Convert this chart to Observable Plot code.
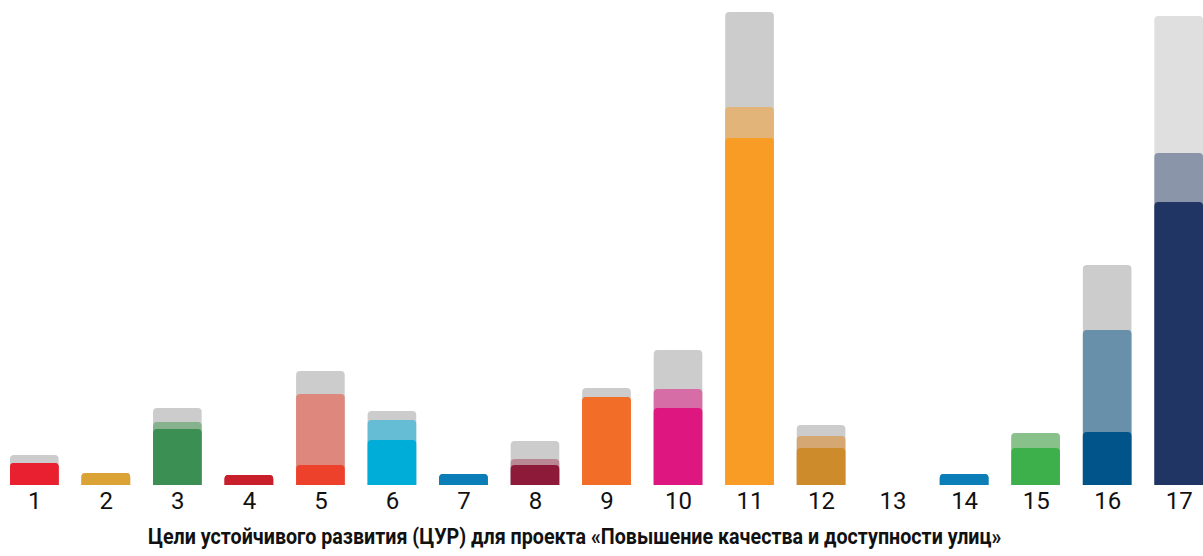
<!DOCTYPE html>
<html>
<head>
<meta charset="utf-8">
<script src="https://cdn.jsdelivr.net/npm/d3@7"></script>
<script src="https://cdn.jsdelivr.net/npm/@observablehq/plot@0.6"></script>
<style>
  html, body { margin: 0; padding: 0; background: #fff; }
  #chart { width: 1203px; height: 515px; }
  #titlewrap { height: 41px; position: relative; }
  #title {
    position: absolute; left: 148px; top: 10px;
    font-family: "Roboto", sans-serif;
    font-weight: bold; font-size: 22px; line-height: 24px; color: #111;
    white-space: nowrap; transform-origin: 0 50%; transform: scaleX(0.895);
  }
</style>
</head>
<body>
<div id="chart"></div>
<div id="titlewrap"><div id="title">Цели устойчивого развития (ЦУР) для проекта «Повышение качества и доступности улиц»</div></div>
<script>
const goals = [1,2,3,4,5,6,7,8,9,10,11,12,13,14,15,16,17];
const baseValues = [22,12,56,10,20,45,11,20,88,77,347,37,0,11,37,53,283];
const midValues  = [22,12,63,10,91,65,11,26,88,96,378,49,0,11,52,155,332];
const topValues  = [30,12,77,10,114,74,11,44,97,135,473,60,0,11,52,220,469];
const baseColors = ["#E8202F","#DBA335","#3C8F53","#C91F2B","#EE412C","#00ADD8","#0B7EB7","#8E1A3A","#F26D27","#DE1780","#F99C26","#CE8B2C","#3F7E44","#0B7EB7","#3EB04B","#01548A","#203564"];
const midColors  = ["#E8202F","#DBA335","#86B28E","#C91F2B","#DE877D","#64BCD5","#0B7EB7","#BA8894","#F26D27","#D66DA6","#E2B47A","#D5A873","#3F7E44","#0B7EB7","#88C28A","#6890AA","#8A95A9"];
const topColors  = ["#CCCCCC","#CCCCCC","#CCCCCC","#CCCCCC","#CCCCCC","#CCCCCC","#CCCCCC","#CCCCCC","#CCCCCC","#CCCCCC","#CCCCCC","#CCCCCC","#CCCCCC","#CCCCCC","#CCCCCC","#CCCCCC","#DFDFDF"];

const rows = goals.map((g, i) => ({goal: g, base: baseValues[i], mid: midValues[i], top: topValues[i],
  cBase: baseColors[i], cMid: midColors[i], cTop: topColors[i]}));

const layer = (key, colorKey) => Plot.barY(rows.filter(d => d[key] > 0), {
  x: "goal", y1: 0, y2: key, fill: colorKey, rx: 4, insetBottom: -8, insetLeft: 0, insetRight: 0, clip: true
});

const chart = Plot.plot({
  width: 1203,
  height: 515,
  marginTop: 0,
  marginLeft: 10,
  marginRight: 0,
  marginBottom: 30,
  x: {type: "band", domain: goals, paddingInner: 0.32, paddingOuter: 0, round: false, label: null},
  y: {domain: [0, 485], axis: null},
  style: {fontFamily: "Roboto, sans-serif", background: "#fff"},
  marks: [
    layer("top", "cTop"),
    layer("mid", "cMid"),
    layer("base", "cBase"),
    Plot.axisX({tickSize: 0, tickPadding: 6, fontSize: 24, fill: "#111", label: null})
  ]
});
document.getElementById("chart").appendChild(chart);
</script>
</body>
</html>
